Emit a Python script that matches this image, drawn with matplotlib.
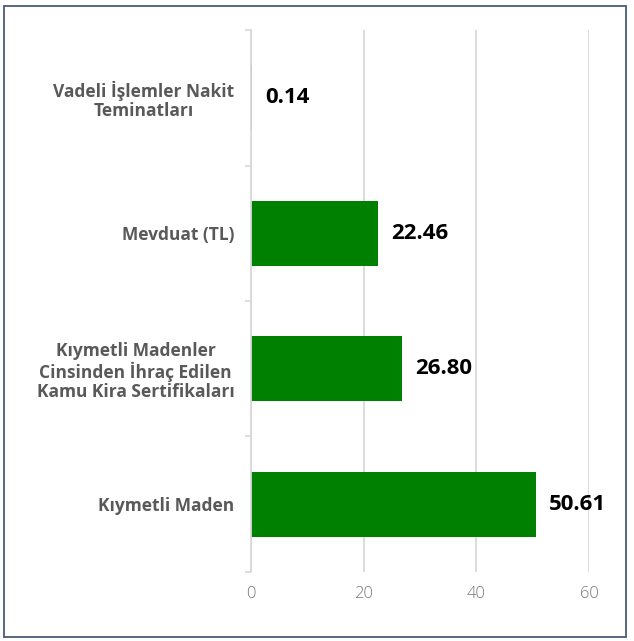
import matplotlib.pyplot as plt
from matplotlib.patches import Rectangle

categories = ['Vadeli İşlemler Nakit\nTeminatları',
              'Mevduat (TL)',
              'Kıymetli Madenler\nCinsinden İhraç Edilen\nKamu Kira Sertifikaları',
              'Kıymetli Maden']
values = [0.14, 22.46, 26.80, 50.61]
xticks = [0, 20, 40, 60]

fig = plt.figure(figsize=(6.34, 6.41), dpi=100)
ax = fig.add_axes([0.396, 0.108, 0.533, 0.845])

y = list(range(len(categories)))
ax.barh(y, values, height=0.48, color='#008000', linewidth=0, zorder=3)

for yi, v in zip(y, values):
    ax.annotate(f'{v:.2f}', (v, yi), xytext=(9.5, 0), textcoords='offset points',
                ha='left', va='center', fontsize=16, fontweight='bold',
                family='Open Sans', color='black')

ax.set_xlim(0, 60)
ax.set_ylim(3.5, -0.5)
ax.set_xticks(xticks)
ax.set_xticklabels([str(t) for t in xticks], family='Open Sans', fontweight='light',
                   fontsize=12, color='#777777')
ax.tick_params(axis='x', length=0, pad=10)

ax.set_yticks(y)
ax.set_yticklabels(categories, family='Open Sans', fontweight='bold', fontsize=12.5,
                   color='#595959', multialignment='center', linespacing=1.1)
ax.set_yticks([-0.5, 0.5, 1.5, 2.5, 3.5], minor=True)
ax.tick_params(axis='y', which='major', length=0, pad=12)
ax.tick_params(axis='y', which='minor', length=4, color='#d9d9d9', width=1.2)

ax.grid(axis='x', color='#d9d9d9', linewidth=1.3, zorder=0)
for s in ['top', 'right', 'bottom']:
    ax.spines[s].set_visible(False)
ax.spines['left'].set_color('#d9d9d9')
ax.spines['left'].set_linewidth(1.3)
ax.spines['left'].set_zorder(4)

fig.patches.append(Rectangle((4 / 634, 4 / 641), 622 / 634, 631 / 641,
                             transform=fig.transFigure, fill=False,
                             edgecolor='#4a5a78', linewidth=1.3))

fig.savefig('out.png', dpi=100, facecolor='white')
